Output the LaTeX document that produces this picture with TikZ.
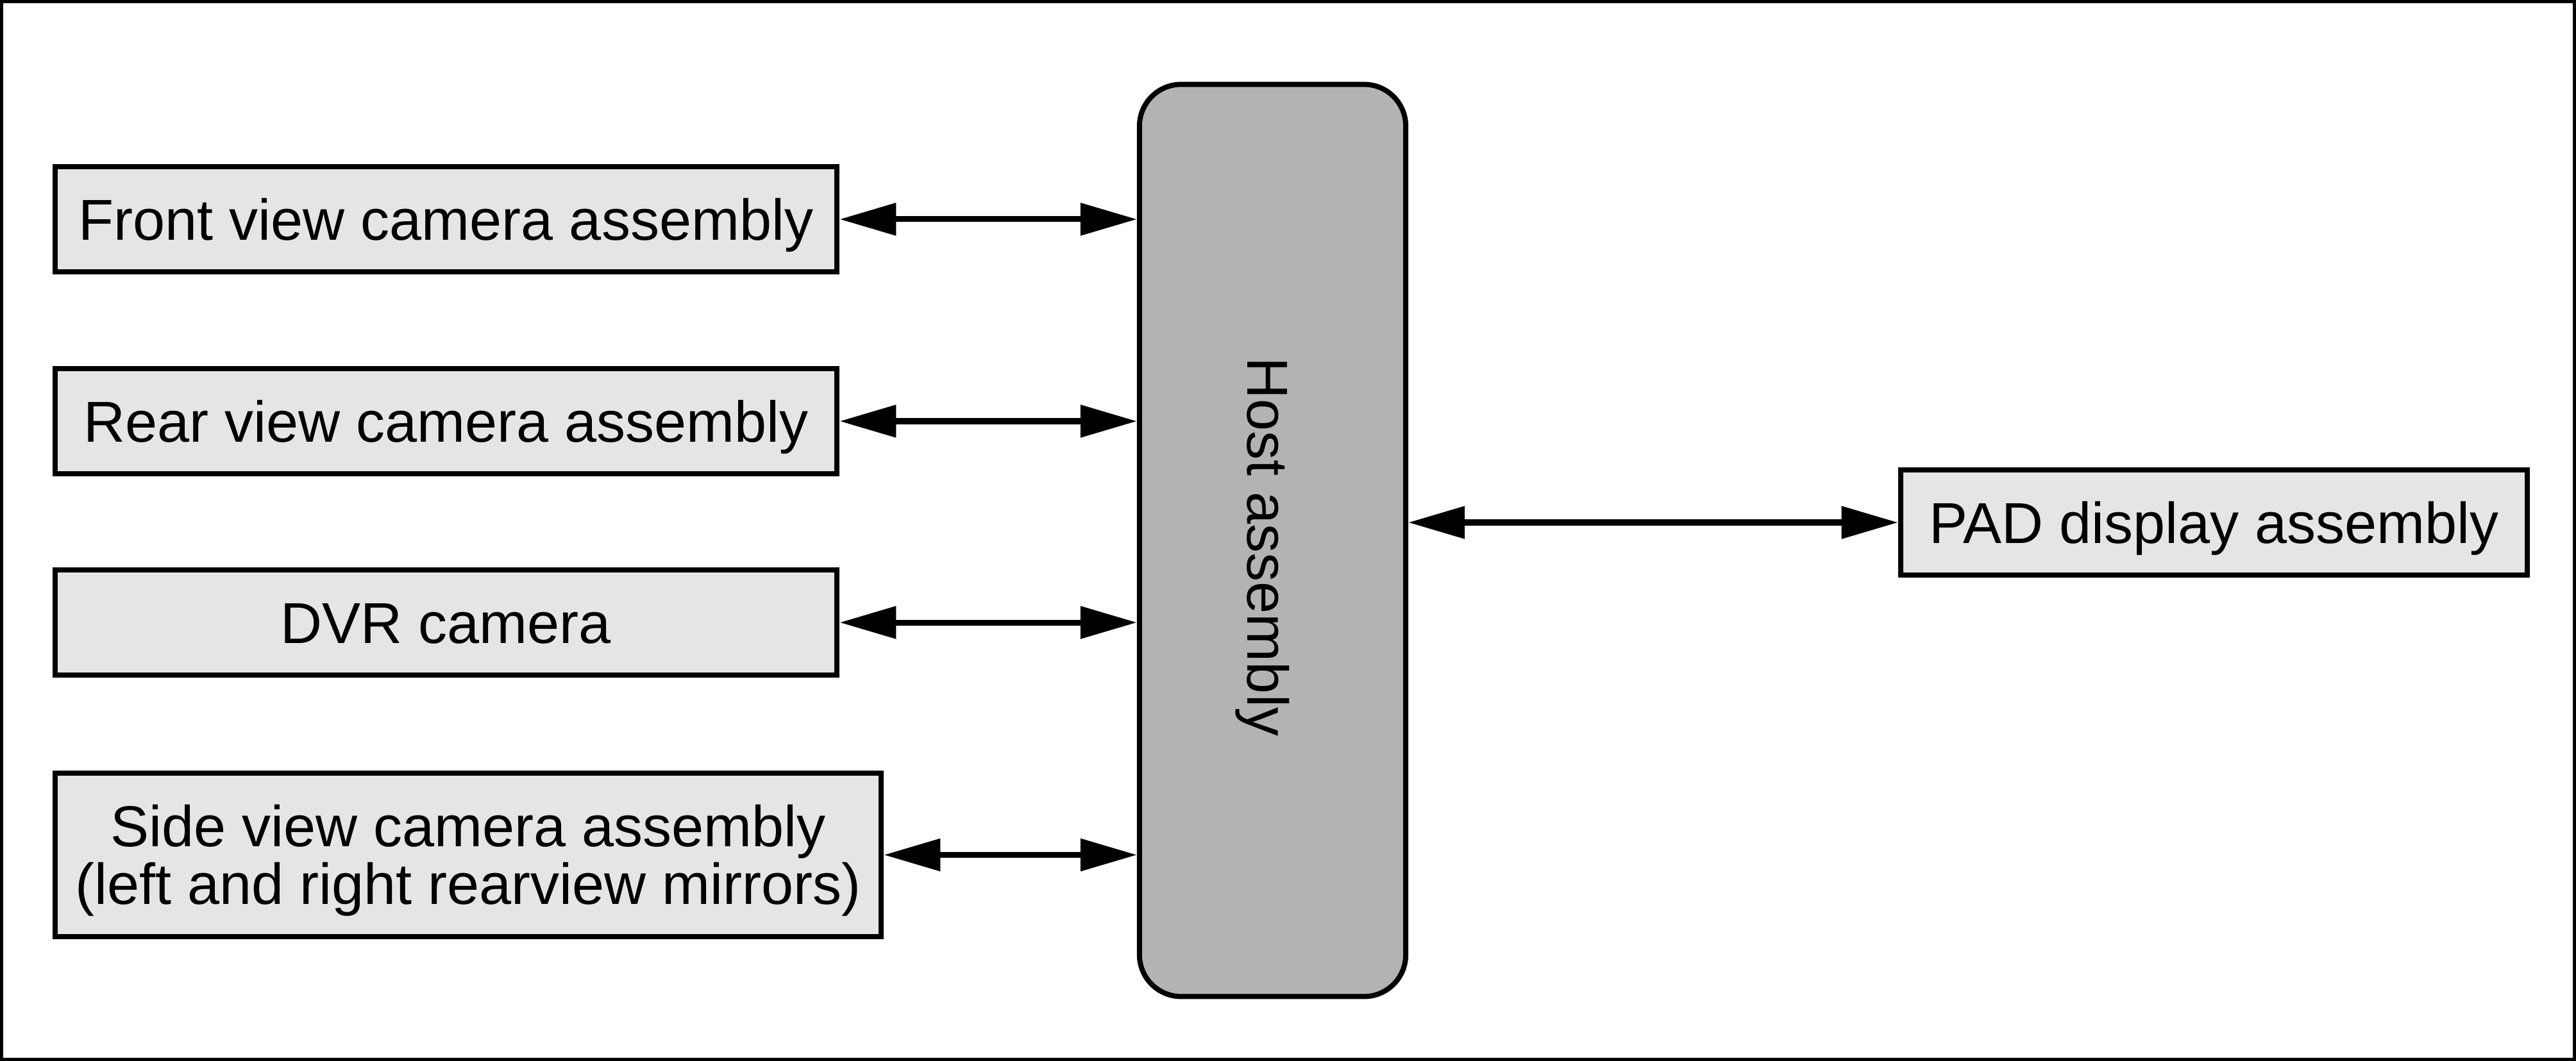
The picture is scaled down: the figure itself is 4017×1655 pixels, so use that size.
\documentclass[tikz,border=0pt]{standalone}
\usepackage{fontspec}
\setmainfont{Liberation Sans}
\usetikzlibrary{arrows.meta}
\definecolor{boxgray}{HTML}{E5E5E5}
\definecolor{hostgray}{HTML}{B3B3B3}
\begin{document}
\begin{tikzpicture}[x=0.01cm,y=-0.01cm,
  camerabox/.style={draw=black,fill=boxgray,line width=0.08cm,rectangle,inner sep=0pt,
     minimum height=1.64cm,align=center,text height=18.3pt,text depth=0pt,
     font=\fontsize{25.6}{25.6}\selectfont},
  hostbox/.style={draw=black,fill=hostgray,line width=0.08cm,rectangle,rounded corners=0.65cm,
     inner sep=0pt,minimum width=4.15cm,minimum height=14.22cm},
  biarrow/.style={line width=0.09cm,{Triangle[length=0.88cm,width=0.49cm]}-{Triangle[length=0.88cm,width=0.49cm]}}]
\useasboundingbox (0,0) rectangle (4017,1655);
\draw[line width=0.05cm] (2.5,2.5) rectangle (4014.5,1652.5);

\node[camerabox,minimum width=12.19cm] (front) at (695.5,342) {Front view camera assembly};
\node[camerabox,minimum width=12.19cm] (rear) at (695.5,657) {Rear view camera assembly};
\node[camerabox,minimum width=12.19cm] (dvr) at (695.5,971) {DVR camera};
\node[camerabox,minimum width=12.88cm,minimum height=2.55cm,text height=43.9pt,text depth=0pt] (side) at (730,1333.5) {Side view camera assembly\\(left and right rearview mirrors)};
\node[hostbox] (host) at (1984.5,843) {};
\node[rotate=-90,inner sep=0pt,text height=18.3pt,text depth=0pt,font=\fontsize{25.6}{25.6}\selectfont] (hostlabel) at (1978,853) {Host assembly};
\node[camerabox,minimum width=9.77cm] (pad) at (3452.5,815) {PAD display assembly};

\draw[biarrow] (front.east) -- (front.east -| host.west);
\draw[biarrow] (rear.east) -- (rear.east -| host.west);
\draw[biarrow] (dvr.east) -- (dvr.east -| host.west);
\draw[biarrow] (side.east) -- (side.east -| host.west);
\draw[biarrow] (pad.west -| host.east) -- (pad.west);
\end{tikzpicture}
\end{document}
